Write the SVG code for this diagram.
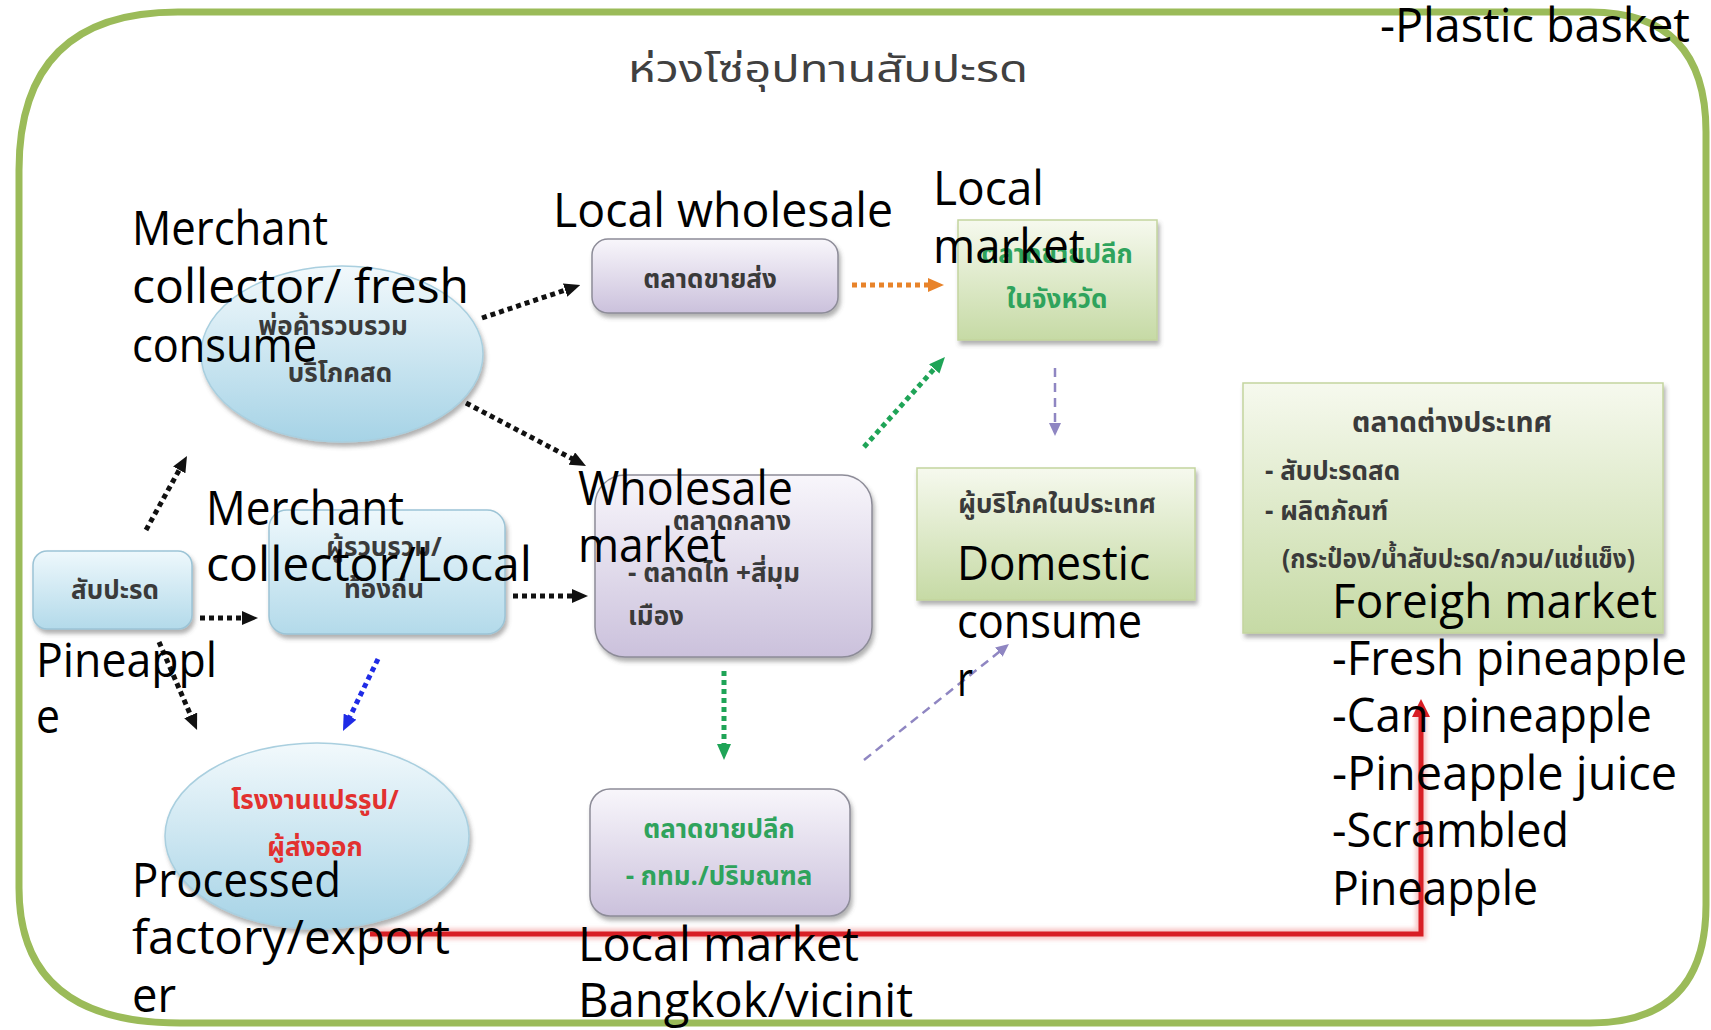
<svg xmlns="http://www.w3.org/2000/svg" width="1711" height="1030" viewBox="0 0 1711 1030">
<defs>
<style>
.en{font-family:"Open Sans","Liberation Sans",sans-serif;font-size:47px;fill:#000;}
.th{font-family:"Noto Sans Thai","Tahoma","Leelawadee UI","DejaVu Sans",sans-serif;font-size:26px;fill:#3a3a3a;font-weight:bold;}
.thg{fill:#2fa35c;}
.thr{fill:#e2312f;}
.dotk{fill:none;stroke:#111;stroke-width:5;stroke-dasharray:5 4;}
.dotb{fill:none;stroke:#1f2be6;stroke-width:5;stroke-dasharray:5 4;}
.doto{fill:none;stroke:#e8832a;stroke-width:5;stroke-dasharray:5 4;}
.dotg{fill:none;stroke:#1fa457;stroke-width:5;stroke-dasharray:5 4;}
.dashp{fill:none;stroke:#8f86c2;stroke-width:2.5;stroke-dasharray:9 6;}
.bluebox{fill:url(#gBlue);stroke:#9cc4d6;stroke-width:1.5;filter:url(#sh);}
.ell{fill:url(#gEll);stroke:#a9cfdf;stroke-width:1.5;filter:url(#sh);}
.purp{fill:url(#gPurp);stroke:#8d8c98;stroke-width:1.5;filter:url(#sh);}
.green{fill:url(#gGreen);stroke:#c3d59e;stroke-width:1.5;filter:url(#sh);}
</style>
<linearGradient id="gBlue" x1="0" y1="0" x2="0" y2="1">
<stop offset="0" stop-color="#eef8fc"/><stop offset="1" stop-color="#b3daea"/>
</linearGradient>
<linearGradient id="gEll" x1="0" y1="0" x2="0" y2="1">
<stop offset="0" stop-color="#f2f9fc"/><stop offset="1" stop-color="#a6d3e6"/>
</linearGradient>
<linearGradient id="gPurp" x1="0" y1="0" x2="0" y2="1">
<stop offset="0" stop-color="#f8f6fb"/><stop offset="1" stop-color="#cbc1dc"/>
</linearGradient>
<linearGradient id="gGreen" x1="0" y1="0" x2="0" y2="1">
<stop offset="0" stop-color="#f6f9ee"/><stop offset="1" stop-color="#c6daa5"/>
</linearGradient>
<filter id="sh" x="-10%" y="-10%" width="125%" height="130%">
<feDropShadow dx="2" dy="4" stdDeviation="2" flood-color="#555" flood-opacity="0.45"/>
</filter>
<filter id="glow" x="-5%" y="-5%" width="110%" height="110%">
<feGaussianBlur stdDeviation="2"/>
</filter>
<marker id="aK" markerUnits="userSpaceOnUse" markerWidth="16" markerHeight="14" viewBox="0 0 16 14" refX="2" refY="7" orient="auto"><path d="M0,0 L16,7 L0,14 z" fill="#111"/></marker>
<marker id="aB" markerUnits="userSpaceOnUse" markerWidth="16" markerHeight="14" viewBox="0 0 16 14" refX="2" refY="7" orient="auto"><path d="M0,0 L16,7 L0,14 z" fill="#1f2be6"/></marker>
<marker id="aO" markerUnits="userSpaceOnUse" markerWidth="16" markerHeight="14" viewBox="0 0 16 14" refX="2" refY="7" orient="auto"><path d="M0,0 L16,7 L0,14 z" fill="#e8832a"/></marker>
<marker id="aG" markerUnits="userSpaceOnUse" markerWidth="16" markerHeight="14" viewBox="0 0 16 14" refX="2" refY="7" orient="auto"><path d="M0,0 L16,7 L0,14 z" fill="#1fa457"/></marker>
<marker id="aP" markerUnits="userSpaceOnUse" markerWidth="13" markerHeight="12" viewBox="0 0 13 12" refX="1" refY="6" orient="auto"><path d="M0,0 L13,6 L0,12 z" fill="#8f86c2"/></marker>
<marker id="aR" markerUnits="userSpaceOnUse" markerWidth="18" markerHeight="18" viewBox="0 0 18 18" refX="2" refY="9" orient="auto"><path d="M0,0 L18,9 L0,18 z" fill="#d81e25"/></marker>
</defs>
<rect width="1711" height="1030" fill="#fff"/>
<path id="border" d="M178,12 L1590,12 Q1706,12 1706,132 L1706,905 Q1706,1023 1590,1023 L180,1023 Q19,1023 19,888 L19,170 Q19,12 178,12 Z" fill="none" stroke="#9bbb59" stroke-width="7"/>
<text class="th" x="828" y="82" text-anchor="middle" style="font-size:38px;font-weight:normal;fill:#404040" textLength="400" lengthAdjust="spacingAndGlyphs">ห่วงโซ่อุปทานสับปะรด</text>

<g id="n-pineapple"><rect class="bluebox" x="33" y="551" width="159" height="78" rx="14"/><text class="th" x="115" y="599" text-anchor="middle">สับปะรด</text></g>
<g id="n-collector"><rect class="bluebox" x="269" y="510" width="236" height="124" rx="18"/><text class="th" x="384" y="556" text-anchor="middle">ผู้รวบรวม/</text><text class="th" x="384" y="598" text-anchor="middle">ท้องถิ่น</text></g>
<g id="n-merchant"><ellipse class="ell" cx="342" cy="354" rx="141" ry="88"/><text class="th" x="333" y="335" text-anchor="middle">พ่อค้ารวบรวม</text><text class="th" x="340" y="382" text-anchor="middle">บริโภคสด</text></g>
<g id="n-factory"><ellipse class="ell" cx="317" cy="836" rx="152" ry="93"/><text class="th thr" x="315" y="809" text-anchor="middle">โรงงานแปรรูป/</text><text class="th thr" x="315" y="856" text-anchor="middle">ผู้ส่งออก</text></g>
<g id="n-localwholesale"><rect class="purp" x="592" y="239" width="246" height="74" rx="16"/><text class="th" x="710" y="288" text-anchor="middle">ตลาดขายส่ง</text></g>
<g id="n-central"><rect class="purp" x="595" y="475" width="277" height="182" rx="30"/><text class="th" x="732" y="530" text-anchor="middle">ตลาดกลาง</text><text class="th" x="628" y="582">- ตลาดไท +สี่มุม</text><text class="th" x="628" y="625">เมือง</text></g>
<g id="n-bkkretail"><rect class="purp" x="590" y="789" width="260" height="127" rx="20"/><text class="th thg" x="719" y="838" text-anchor="middle">ตลาดขายปลีก</text><text class="th thg" x="719" y="885" text-anchor="middle">- กทม./ปริมณฑล</text></g>
<g id="n-localretail"><rect class="green" x="958" y="220" width="199" height="120"/><text class="th thg" x="1057" y="263" text-anchor="middle">ตลาดขายปลีก</text><text class="th thg" x="1057" y="308" text-anchor="middle">ในจังหวัด</text></g>
<g id="n-domestic"><rect class="green" x="917" y="468" width="278" height="132"/><text class="th" x="1057" y="513" text-anchor="middle">ผู้บริโภคในประเทศ</text></g>
<g id="n-foreign"><rect class="green" x="1243" y="383" width="420" height="250"/><text class="th" x="1452" y="432" text-anchor="middle" style="font-size:28px">ตลาดต่างประเทศ</text><text class="th" x="1265" y="480">- สับปะรดสด</text><text class="th" x="1265" y="520">- ผลิตภัณฑ์</text><text class="th" x="1282" y="568" textLength="353" lengthAdjust="spacingAndGlyphs">(กระป๋อง/น้ำสับปะรด/กวน/แช่แข็ง)</text></g>

<g id="connectors">
<line class="dotk" x1="482" y1="318" x2="567" y2="289.5" marker-end="url(#aK)"/>
<line class="dotk" x1="466" y1="403" x2="573.6" y2="459.5" marker-end="url(#aK)"/>
<line class="dotk" x1="146" y1="530" x2="180.2" y2="468.2" marker-end="url(#aK)"/>
<line class="dotk" x1="200" y1="618" x2="244" y2="618" marker-end="url(#aK)"/>
<line class="dotk" x1="159" y1="642" x2="191.5" y2="717.2" marker-end="url(#aK)"/>
<line class="dotk" x1="513" y1="596" x2="574" y2="596" marker-end="url(#aK)"/>
<line class="dotb" x1="378" y1="659" x2="349.1" y2="718.4" marker-end="url(#aB)"/>
<line class="doto" x1="852" y1="285" x2="930" y2="285" marker-end="url(#aO)"/>
<line class="dotg" x1="864" y1="447" x2="935.6" y2="367.4" marker-end="url(#aG)"/>
<line class="dotg" x1="724" y1="671" x2="724" y2="746" marker-end="url(#aG)"/>
<line class="dashp" x1="1055" y1="368" x2="1055" y2="424" marker-end="url(#aP)"/>
<line class="dashp" x1="864" y1="760" x2="999.6" y2="651.5" marker-end="url(#aP)"/>
<polyline points="370,934 1421,934 1421,715" fill="none" stroke="#f3a0a0" stroke-width="11" opacity="0.6" filter="url(#glow)"/>
<polyline points="370,934 1421,934 1421,715" fill="none" stroke="#d81e25" stroke-width="5" marker-end="url(#aR)"/>
</g>

<g id="labels">
<text class="en" x="132" y="245" textLength="196" lengthAdjust="spacingAndGlyphs">Merchant</text>
<text class="en" x="132" y="303" textLength="337" lengthAdjust="spacingAndGlyphs">collector/ fresh</text>
<text class="en" x="132" y="362" textLength="185" lengthAdjust="spacingAndGlyphs">consume</text>
<text class="en" x="553" y="227" textLength="340" lengthAdjust="spacingAndGlyphs">Local wholesale</text>
<text class="en" x="933" y="205" textLength="111" lengthAdjust="spacingAndGlyphs">Local</text>
<text class="en" x="933" y="263" textLength="152" lengthAdjust="spacingAndGlyphs">market</text>
<text class="en" x="206" y="525" textLength="198" lengthAdjust="spacingAndGlyphs">Merchant</text>
<text class="en" x="206" y="581" textLength="326" lengthAdjust="spacingAndGlyphs">collector/Local</text>
<text class="en" x="578" y="505" textLength="215" lengthAdjust="spacingAndGlyphs">Wholesale</text>
<text class="en" x="578" y="562" textLength="148" lengthAdjust="spacingAndGlyphs">market</text>
<text class="en" x="36" y="677" textLength="181" lengthAdjust="spacingAndGlyphs">Pineappl</text>
<text class="en" x="36" y="733" textLength="24" lengthAdjust="spacingAndGlyphs">e</text>
<text class="en" x="957" y="580" textLength="193" lengthAdjust="spacingAndGlyphs">Domestic</text>
<text class="en" x="957" y="638" textLength="185" lengthAdjust="spacingAndGlyphs">consume</text>
<text class="en" x="957" y="696" textLength="16" lengthAdjust="spacingAndGlyphs">r</text>
<text class="en" x="1332" y="618" textLength="325" lengthAdjust="spacingAndGlyphs">Foreigh market</text>
<text class="en" x="1332" y="675" textLength="355" lengthAdjust="spacingAndGlyphs">-Fresh pineapple</text>
<text class="en" x="1332" y="732" textLength="320" lengthAdjust="spacingAndGlyphs">-Can pineapple</text>
<text class="en" x="1332" y="790" textLength="345" lengthAdjust="spacingAndGlyphs">-Pineapple juice</text>
<text class="en" x="1332" y="847" textLength="237" lengthAdjust="spacingAndGlyphs">-Scrambled</text>
<text class="en" x="1332" y="905" textLength="206" lengthAdjust="spacingAndGlyphs">Pineapple</text>
<text class="en" x="132" y="897" textLength="209" lengthAdjust="spacingAndGlyphs">Processed</text>
<text class="en" x="132" y="954" textLength="318" lengthAdjust="spacingAndGlyphs">factory/export</text>
<text class="en" x="132" y="1012" textLength="44" lengthAdjust="spacingAndGlyphs">er</text>
<text class="en" x="578" y="961" textLength="281" lengthAdjust="spacingAndGlyphs">Local market</text>
<text class="en" x="578" y="1017" textLength="335" lengthAdjust="spacingAndGlyphs">Bangkok/vicinit</text>
<text class="en" x="1380" y="42" textLength="310" lengthAdjust="spacingAndGlyphs">-Plastic basket</text>
</g>
</svg>
